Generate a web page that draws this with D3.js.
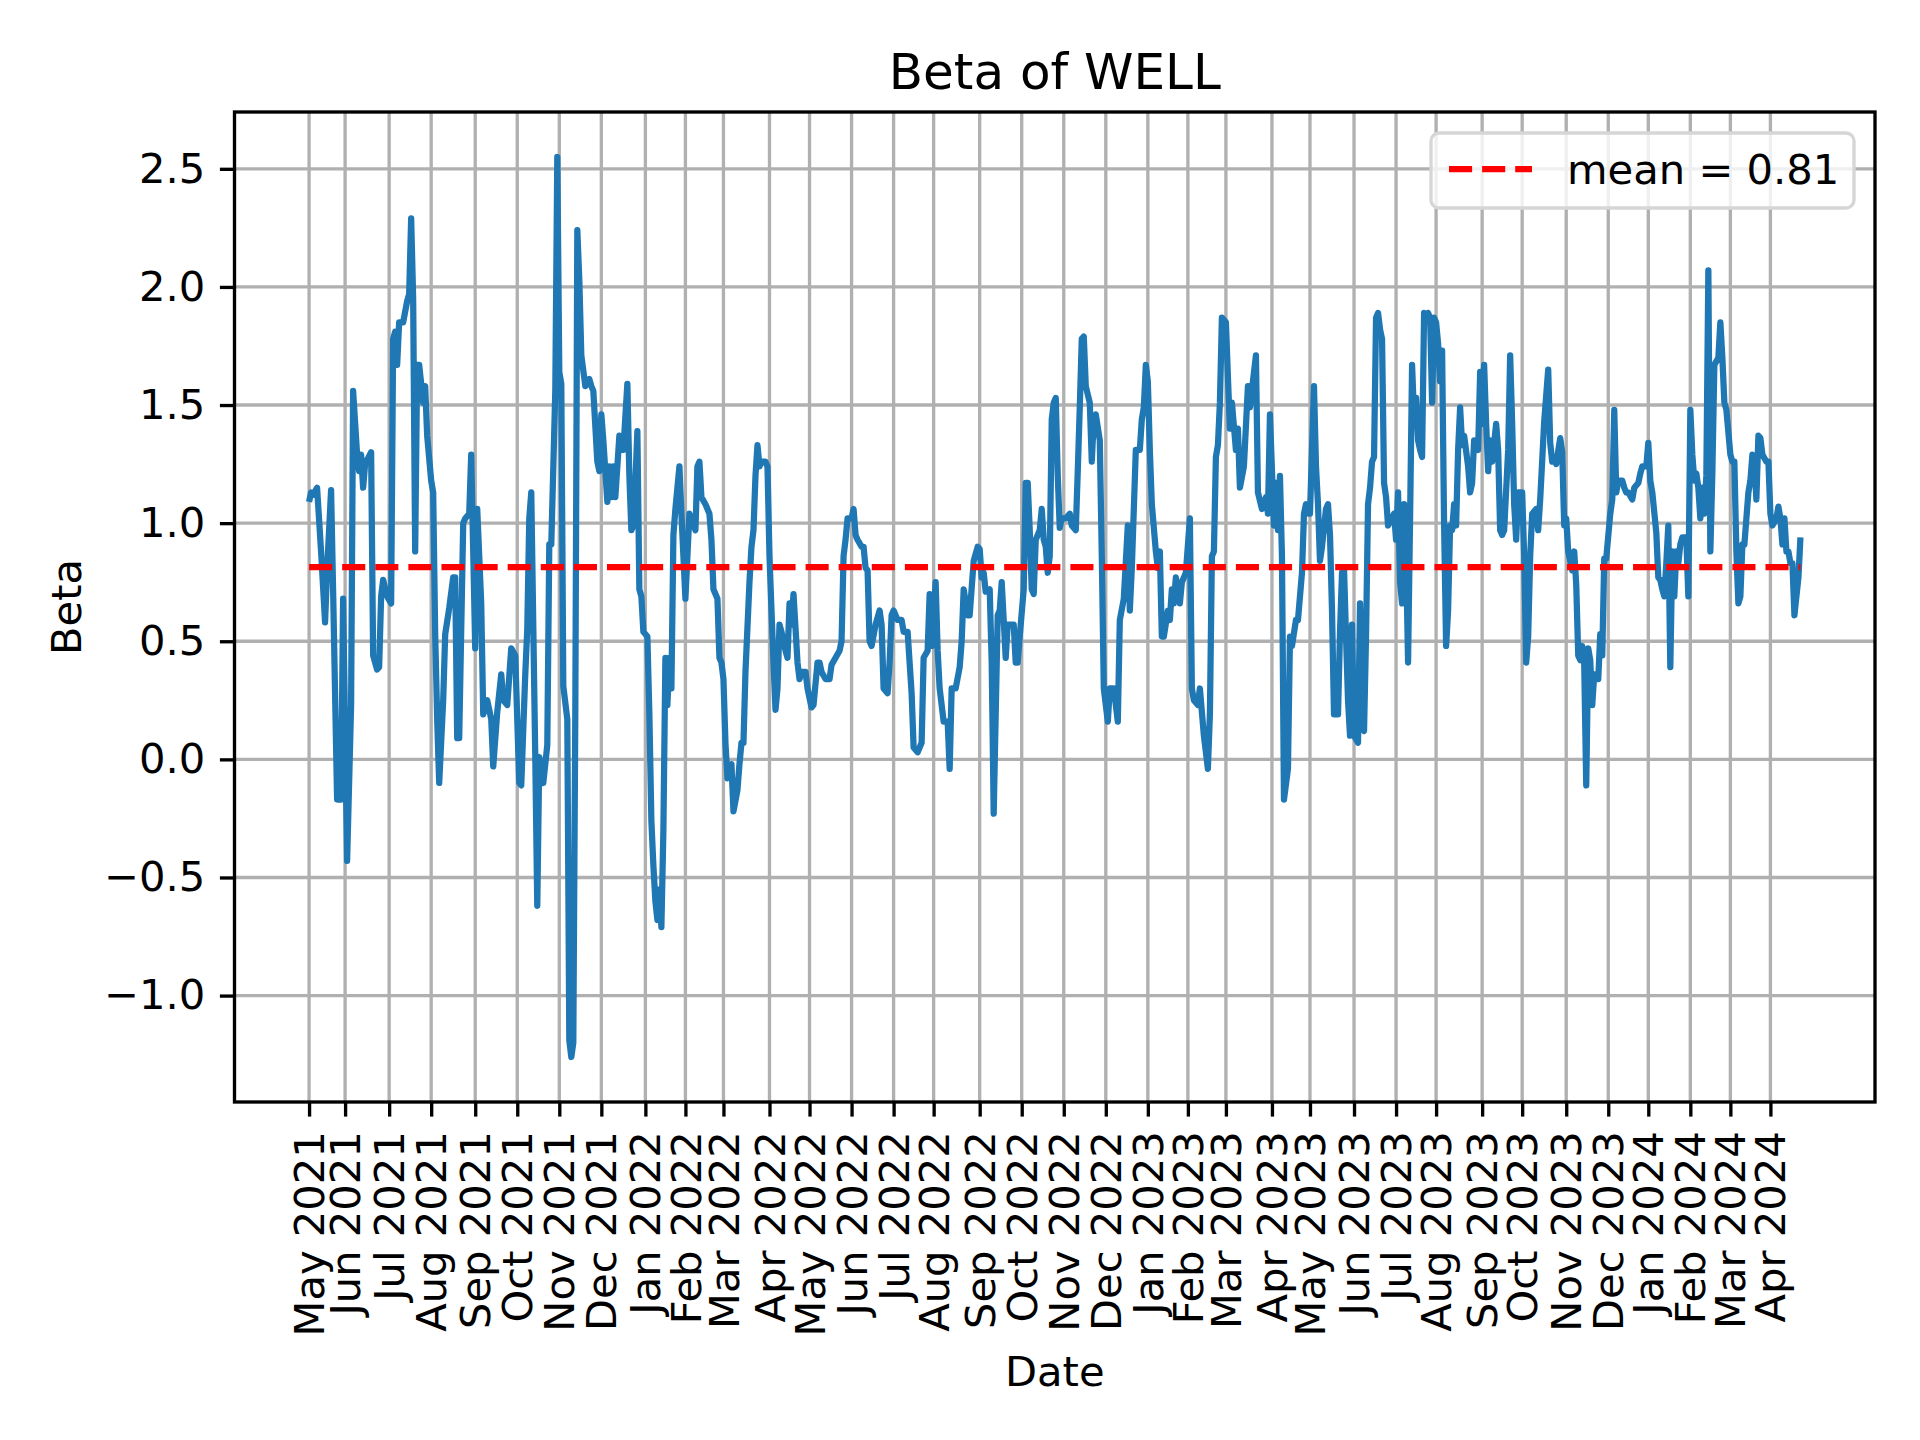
<!DOCTYPE html>
<html>
<head>
<meta charset="utf-8">
<script src="https://cdn.jsdelivr.net/npm/d3@7/dist/d3.min.js"></script>
<style>
body{margin:0;background:#fff;}
text{font-family:"DejaVu Sans",sans-serif;fill:#000;}
</style>
</head>
<body>
<svg id="chart" width="1920" height="1440"></svg>
<script>
// beta series, x = trading day count since the first point (May 2021)
var tradingDay=[0,1,2,4,6,8,9,11,12,14,16,17,19,21,22,24,25,26,27,28,31,32,34,35,36,37,39,41,42,43,44,45,47,49,50,51,52,53,54,55,57,58,59,61,62,63,64,65,67,68,70,72,73,74,75,77,78,80,81,82,83,84,86,87,89,91,92,94,96,97,99,101,103,105,106,108,109,110,111,113,114,115,117,119,120,121,123,124,125,126,127,129,130,131,132,133,134,135,136,138,140,141,142,144,145,146,147,149,150,151,152,153,155,156,157,159,160,161,162,163,164,165,166,167,169,170,171,172,173,174,175,176,177,178,179,180,181,182,183,185,186,187,188,190,191,193,194,195,196,198,200,201,202,204,205,206,207,208,209,210,211,212,214,215,216,217,218,220,221,222,223,224,225,226,228,229,230,231,232,233,234,235,236,238,239,240,241,242,244,245,246,248,249,251,252,254,255,256,258,260,261,263,265,266,267,268,269,271,272,273,274,276,277,278,279,280,281,283,285,286,287,289,290,291,292,294,296,297,299,301,302,304,306,307,309,310,311,313,314,315,317,319,320,321,323,325,326,327,329,330,332,334,335,336,337,338,340,341,342,344,345,346,348,349,350,352,353,354,355,357,358,359,360,361,362,363,365,366,367,368,369,370,371,372,373,374,375,376,378,380,381,383,384,385,386,387,388,390,391,392,393,395,396,397,399,400,402,404,405,407,409,410,411,413,415,416,417,418,419,420,421,423,424,425,426,427,429,430,431,432,433,435,436,438,440,441,442,444,445,447,449,450,451,452,453,454,455,456,458,459,460,461,463,464,465,467,469,470,473,474,476,478,479,480,482,483,484,485,486,487,489,490,491,493,494,496,497,498,499,500,502,503,504,505,506,508,509,510,511,512,514,515,516,517,518,519,520,521,522,524,525,526,527,528,529,530,531,532,533,534,535,536,537,538,539,541,542,543,544,545,546,547,548,549,550,551,552,553,554,555,556,557,558,559,560,561,562,563,564,565,566,567,568,569,570,571,572,573,574,575,576,577,579,580,581,582,584,585,586,587,588,589,590,591,593,594,595,596,597,599,600,601,602,603,604,606,607,608,609,610,611,613,614,615,617,619,620,621,622,623,625,626,627,628,629,631,632,633,634,635,636,637,638,639,640,641,642,643,644,645,646,647,648,650,651,652,653,654,656,657,658,659,661,662,664,665,666,668,669,670,671,673,674,675,676,677,678,679,680,681,682,683,684,685,686,688,689,690,691,692,693,694,695,696,697,698,699,700,701,702,704,705,706,707,708,710,711,712,713,714,715,716,717,719,720,721,722,723,724,725,726,728,729,730,731,733,734,735,736,737,738,739,740,741,742,744,745];
var beta=[1.09,1.13,1.12,1.15,0.88,0.58,0.80,1.14,0.72,-0.17,-0.17,0.68,-0.43,0.23,1.56,1.29,1.22,1.29,1.15,1.25,1.30,0.44,0.38,0.39,0.69,0.76,0.69,0.66,1.78,1.81,1.67,1.85,1.85,1.94,1.97,2.29,1.95,0.88,1.67,1.67,1.51,1.58,1.37,1.18,1.13,0.53,0.17,-0.10,0.25,0.53,0.64,0.77,0.77,0.09,0.09,1.00,1.02,1.04,1.29,0.88,0.47,1.06,0.66,0.19,0.25,0.17,-0.03,0.20,0.36,0.25,0.23,0.47,0.44,-0.10,-0.11,0.36,0.55,1.02,1.13,0.01,-0.62,0.01,-0.10,0.06,0.91,0.91,1.56,2.55,1.64,1.59,0.31,0.17,-1.19,-1.26,-1.20,0.20,2.24,2.03,1.71,1.58,1.61,1.58,1.56,1.26,1.22,1.46,1.35,1.09,1.24,1.11,1.24,1.11,1.37,1.35,1.31,1.59,1.20,0.97,0.99,1.17,1.39,0.72,0.69,0.54,0.52,0.19,-0.26,-0.45,-0.60,-0.68,-0.55,-0.71,-0.30,0.43,0.23,0.43,0.30,0.95,1.06,1.24,1.04,0.86,0.68,1.04,1.02,0.97,1.24,1.26,1.11,1.08,1.04,0.93,0.72,0.68,0.43,0.41,0.34,0.07,-0.08,-0.06,-0.02,-0.22,-0.13,-0.02,0.07,0.07,0.37,0.75,0.90,0.97,1.20,1.33,1.24,1.26,1.26,1.24,0.86,0.63,0.41,0.21,0.30,0.57,0.54,0.46,0.43,0.66,0.57,0.70,0.41,0.34,0.37,0.37,0.30,0.22,0.23,0.41,0.41,0.37,0.34,0.34,0.40,0.43,0.46,0.50,0.86,0.93,1.02,1.02,1.06,0.95,0.93,0.90,0.90,0.81,0.80,0.50,0.48,0.57,0.63,0.57,0.30,0.28,0.41,0.61,0.63,0.59,0.59,0.54,0.54,0.28,0.05,0.03,0.07,0.43,0.46,0.70,0.48,0.75,0.46,0.30,0.16,0.16,-0.04,0.30,0.30,0.39,0.50,0.72,0.61,0.61,0.84,0.90,0.89,0.77,0.79,0.71,0.72,0.41,-0.23,0.61,0.63,0.75,0.43,0.57,0.57,0.57,0.41,0.41,0.52,0.72,1.17,1.17,0.97,0.72,0.70,0.93,0.97,1.06,0.93,0.90,0.79,0.86,1.44,1.51,1.53,1.20,0.98,1.02,1.02,1.04,0.99,0.97,1.22,1.49,1.78,1.79,1.58,1.51,1.26,1.44,1.46,1.35,0.86,0.30,0.16,0.30,0.30,0.16,0.59,0.68,0.99,0.63,0.81,1.31,1.31,1.44,1.49,1.67,1.60,1.31,1.08,0.88,0.81,0.88,0.52,0.52,0.63,0.59,0.72,0.66,0.77,0.66,0.75,0.79,1.02,0.30,0.25,0.23,0.30,0.10,-0.04,0.19,0.86,0.88,1.28,1.33,1.51,1.87,1.85,1.62,1.40,1.51,1.31,1.40,1.15,1.24,1.58,1.49,1.71,1.13,1.06,1.11,1.04,1.46,0.99,1.17,0.97,1.20,0.86,-0.17,-0.04,0.52,0.48,0.59,0.59,0.79,1.04,1.08,1.04,1.04,1.58,1.24,1.08,0.84,0.90,1.06,1.08,0.95,0.63,0.19,0.19,0.54,0.79,0.81,0.52,0.25,0.10,0.57,0.10,0.07,0.66,0.14,0.12,0.52,1.08,1.15,1.26,1.28,1.87,1.89,1.82,1.78,1.17,1.11,0.99,1.02,1.04,0.93,1.13,0.75,0.66,1.08,0.86,0.41,1.02,1.67,1.44,1.53,1.35,1.31,1.28,1.89,1.85,1.89,1.87,1.51,1.87,1.85,1.76,1.60,1.73,0.99,0.48,0.63,0.99,0.97,1.08,0.99,1.31,1.49,1.33,1.37,1.24,1.13,1.17,1.35,1.31,1.64,1.42,1.67,1.42,1.22,1.35,1.26,1.42,1.31,0.97,0.95,0.97,1.31,1.71,1.42,1.08,0.93,1.13,1.13,0.86,0.41,0.52,0.86,1.04,1.06,0.97,1.10,1.43,1.65,1.34,1.26,1.28,1.25,1.36,1.30,0.99,1.02,0.88,0.80,0.88,0.74,0.44,0.42,0.48,0.40,-0.11,0.47,0.42,0.23,0.36,0.34,0.34,0.53,0.44,0.85,0.85,1.04,1.10,1.48,1.13,1.18,1.18,1.15,1.13,1.13,1.10,1.15,1.17,1.21,1.24,1.24,1.34,1.18,1.13,0.96,0.77,0.76,0.72,0.69,0.83,0.99,0.39,0.88,0.69,0.88,0.83,0.91,0.94,0.94,0.69,1.48,1.29,1.18,1.21,1.15,1.02,1.15,1.04,1.20,2.07,0.88,1.21,1.67,1.70,1.85,1.70,1.51,1.48,1.29,1.26,1.26,0.88,0.66,0.69,0.91,0.91,1.13,1.18,1.29,1.26,1.10,1.37,1.36,1.29,1.26,1.26,1.04,0.99,1.02,1.07,1.02,0.91,1.02,0.88,0.88,0.83,0.83,0.61,0.77,0.94];

var meanBeta=0.814;
var meanLabel="mean = 0.81";

// month ticks: position of the first trading day of each month
var monthTicks=[0,18,40,61,83,104,125,146,168,188,207,230,250,271,292,312,335,356,377,398,419,439,458,481,500,522,543,563,586,606,628,649,669,690,710,730];
var monthLabels=["May 2021","Jun 2021","Jul 2021","Aug 2021","Sep 2021","Oct 2021","Nov 2021","Dec 2021","Jan 2022","Feb 2022","Mar 2022","Apr 2022","May 2022","Jun 2022","Jul 2022","Aug 2022","Sep 2022","Oct 2022","Nov 2022","Dec 2022","Jan 2023","Feb 2023","Mar 2023","Apr 2023","May 2023","Jun 2023","Jul 2023","Aug 2023","Sep 2023","Oct 2023","Nov 2023","Dec 2023","Jan 2024","Feb 2024","Mar 2024","Apr 2024"];
var yTicks=[-1.0,-0.5,0.0,0.5,1.0,1.5,2.0,2.5];

var chartTitle="Beta of WELL";
var xTitle="Date";
var yTitle="Beta";

var LEFT=234.5,RIGHT=1875,TOP=112,BOTTOM=1102;
var FS=41.67;   // 10pt at 300dpi
var LW=3.33;    // 0.8pt
var TICK=14.6;  // 3.5pt

var svg=d3.select("#chart");

var data=tradingDay.map(function(d,i){return {x:d,y:beta[i]};});

var xExt=d3.extent(tradingDay),xPad=(xExt[1]-xExt[0])*0.05;
var yExt=d3.extent(beta),yPad=(yExt[1]-yExt[0])*0.05;

var x=d3.scaleLinear().domain([xExt[0]-xPad,xExt[1]+xPad]).range([LEFT,RIGHT]);
var y=d3.scaleLinear().domain([yExt[0]-yPad,yExt[1]+yPad]).range([BOTTOM,TOP]);

// grid
var grid=svg.append("g").attr("class","grid");
grid.selectAll("line.vx").data(monthTicks).enter().append("line")
    .attr("class","vx")
    .attr("x1",function(d){return x(d);}).attr("x2",function(d){return x(d);})
    .attr("y1",TOP).attr("y2",BOTTOM)
    .attr("stroke","#b0b0b0").attr("stroke-width",LW);
grid.selectAll("line.hy").data(yTicks).enter().append("line")
    .attr("class","hy")
    .attr("x1",LEFT).attr("x2",RIGHT)
    .attr("y1",function(d){return y(d);}).attr("y2",function(d){return y(d);})
    .attr("stroke","#b0b0b0").attr("stroke-width",LW);

// beta line
var line=d3.line().x(function(d){return x(d.x);}).y(function(d){return y(d.y);});
svg.append("path").datum(data)
    .attr("d",line)
    .attr("fill","none")
    .attr("stroke","#1f77b4")
    .attr("stroke-width",6.25)
    .attr("stroke-linejoin","round");

// mean line over the data span
svg.append("line")
    .attr("x1",x(xExt[0])).attr("x2",x(xExt[1]))
    .attr("y1",y(meanBeta)).attr("y2",y(meanBeta))
    .attr("stroke","red").attr("stroke-width",6.25)
    .attr("stroke-dasharray","23.1,10");

// axes
var xAxis=d3.axisBottom(x).tickValues(monthTicks)
    .tickFormat(function(d,i){return monthLabels[i];})
    .tickSizeInner(TICK).tickSizeOuter(0).tickPadding(TICK);
var gx=svg.append("g").attr("transform","translate(0,"+BOTTOM+")").call(xAxis);
gx.select(".domain").remove();
gx.selectAll(".tick line").attr("stroke","#000").attr("stroke-width",LW);
gx.selectAll(".tick text")
    .attr("transform","rotate(-90)")
    .attr("x",-(TICK*2)).attr("y",0).attr("dy","0.35em")
    .attr("text-anchor","end")
    .attr("font-size",FS).attr("font-family","DejaVu Sans").attr("fill","#000");

var yAxis=d3.axisLeft(y).tickValues(yTicks)
    .tickFormat(function(d){return d3.format(".1f")(d).replace("-","\u2212");})
    .tickSizeInner(TICK).tickSizeOuter(0).tickPadding(TICK);
var gy=svg.append("g").attr("transform","translate("+LEFT+",0)").call(yAxis);
gy.select(".domain").remove();
gy.selectAll(".tick line").attr("stroke","#000").attr("stroke-width",LW);
gy.selectAll(".tick text")
    .attr("font-size",FS).attr("font-family","DejaVu Sans").attr("fill","#000");

// frame
svg.append("rect")
    .attr("x",LEFT).attr("y",TOP)
    .attr("width",RIGHT-LEFT).attr("height",BOTTOM-TOP)
    .attr("fill","none").attr("stroke","#000").attr("stroke-width",LW);

// titles
svg.append("text").attr("x",(LEFT+RIGHT)/2).attr("y",89)
    .attr("text-anchor","middle").attr("font-size",50).text(chartTitle);
svg.append("text").attr("x",(LEFT+RIGHT)/2).attr("y",1386)
    .attr("text-anchor","middle").attr("font-size",FS).text(xTitle);
svg.append("text")
    .attr("transform","translate(66,"+((TOP+BOTTOM)/2)+") rotate(-90)")
    .attr("text-anchor","middle").attr("dominant-baseline","central")
    .attr("font-size",FS).text(yTitle);

// legend
var lg=svg.append("g").attr("class","legend");
lg.append("rect").attr("x",1431).attr("y",133).attr("width",423).attr("height",75)
    .attr("rx",8).attr("ry",8)
    .attr("fill","#fff").attr("fill-opacity",0.8)
    .attr("stroke","#d6d6d6").attr("stroke-width",LW);
lg.append("line").attr("x1",1449).attr("x2",1532).attr("y1",169).attr("y2",169)
    .attr("stroke","red").attr("stroke-width",6.25).attr("stroke-dasharray","23.1,10");
lg.append("text").attr("x",1567).attr("y",169).attr("dominant-baseline","central")
    .attr("font-size",FS).text(meanLabel);
</script>
</body>
</html>
